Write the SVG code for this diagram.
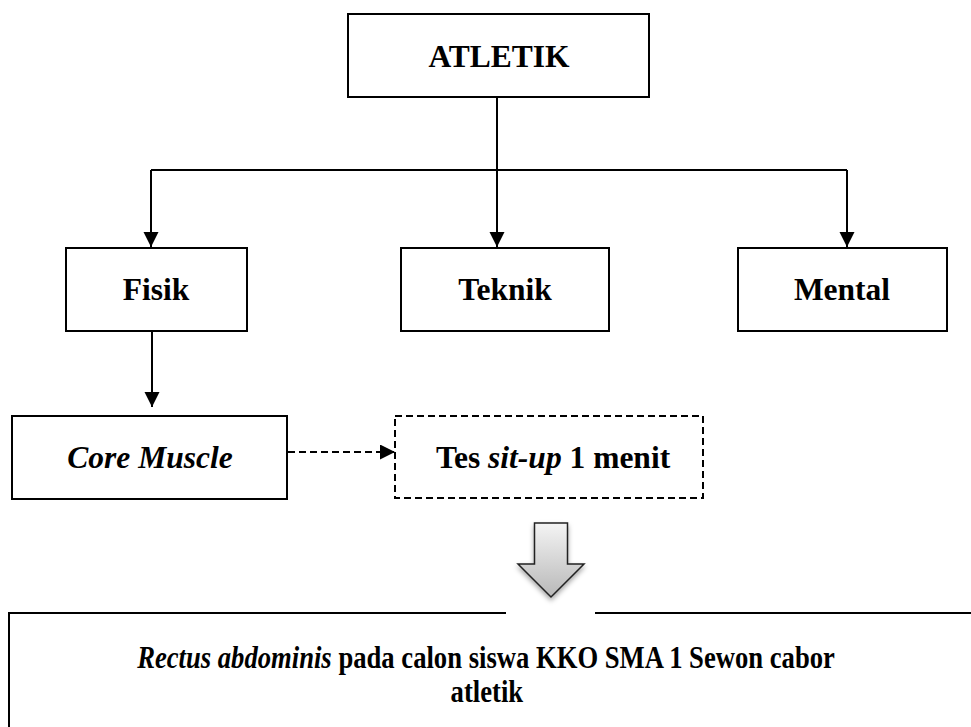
<svg xmlns="http://www.w3.org/2000/svg" width="971" height="727" viewBox="0 0 971 727">
<style>
.box{fill:#fff;stroke:#000;stroke-width:2}
.dash{fill:#fff;stroke:#000;stroke-width:2;stroke-dasharray:7,4}
.t{font-family:"Liberation Serif","Times New Roman",serif;font-weight:bold;font-size:31.5px;fill:#000;text-anchor:middle}
.c{stroke:#000;stroke-width:2;fill:none}
</style>
<defs>
<marker id="ah" markerWidth="16" markerHeight="16" refX="15" refY="7.5" orient="auto" markerUnits="userSpaceOnUse">
<path d="M0,0 L15,7.5 L0,15 Z" fill="#000"/>
</marker>
<linearGradient id="g" x1="0" y1="0" x2="0" y2="1">
<stop offset="0" stop-color="#f4f4f4"/>
<stop offset="1" stop-color="#b8b8b8"/>
</linearGradient>
<filter id="sh" x="-30%" y="-30%" width="160%" height="170%">
<feDropShadow dx="0" dy="3" stdDeviation="2.5" flood-color="#000" flood-opacity="0.35"/>
</filter>
</defs>
<g id="connectors">
<line class="c" x1="497" y1="97" x2="497" y2="170"/>
<line class="c" x1="151" y1="170" x2="847" y2="170" stroke-width="2.5"/>
<line class="c" x1="151" y1="170" x2="151" y2="247" marker-end="url(#ah)"/>
<line class="c" x1="497" y1="170" x2="497" y2="247" marker-end="url(#ah)"/>
<line class="c" x1="847" y1="170" x2="847" y2="247" marker-end="url(#ah)"/>
<line class="c" x1="152" y1="332" x2="152" y2="407" marker-end="url(#ah)"/>
<line class="c" x1="288" y1="452" x2="395" y2="452" stroke-dasharray="7,4" marker-end="url(#ah)"/>
</g>
<g id="atletik">
<rect class="box" x="348" y="14" width="301" height="83"/>
<text class="t" x="499" y="67" font-size="32.5">ATLETIK</text>
</g>
<g id="fisik">
<rect class="box" x="66" y="248" width="181" height="83"/>
<text class="t" x="156" y="300">Fisik</text>
</g>
<g id="teknik">
<rect class="box" x="401" y="248" width="208" height="83"/>
<text class="t" x="505" y="300" font-size="32.5">Teknik</text>
</g>
<g id="mental">
<rect class="box" x="738" y="248" width="209" height="83"/>
<text class="t" x="842" y="300" font-size="32.5">Mental</text>
</g>
<g id="core-muscle">
<rect class="box" x="12" y="416" width="275" height="83"/>
<text class="t" x="150" y="468" font-style="italic">Core Muscle</text>
</g>
<g id="tes-situp">
<rect class="dash" x="395" y="416" width="308" height="82"/>
<text class="t" x="553" y="468">Tes <tspan font-style="italic">sit-up</tspan> 1 menit</text>
</g>
<g id="block-arrow">
<path d="M534.5,523 L567.5,523 L567.5,564 L584,564 L551,597 L518,564 L534.5,564 Z" fill="url(#g)" stroke="#222" stroke-width="1.5" stroke-linejoin="miter" filter="url(#sh)"/>
</g>
<g id="result">
<rect x="9" y="613" width="1000" height="200" fill="#fff" stroke="none"/>
<path d="M9,727 L9,613 L506,613 M595,613 L975,613" class="c"/>
<g transform="translate(486,0) scale(0.846,1)">
<text class="t" x="0" y="668"><tspan font-style="italic">Rectus abdominis</tspan> pada calon siswa KKO SMA 1 Sewon cabor</text>
<text class="t" x="1" y="702">atletik</text>
</g>
</g>
</svg>
